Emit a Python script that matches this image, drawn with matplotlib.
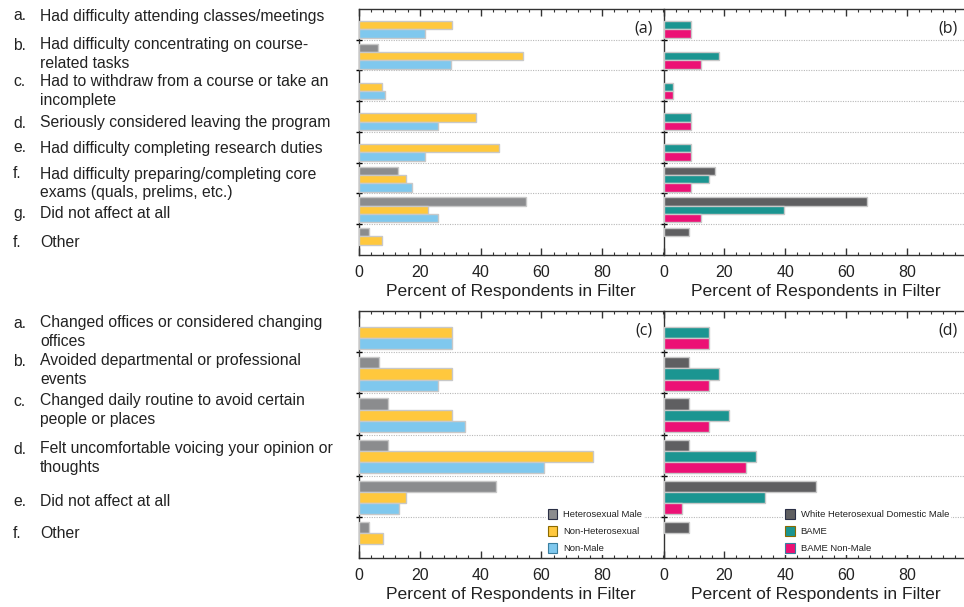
import numpy as np
import matplotlib
matplotlib.use('Agg')
import matplotlib.pyplot as plt
from matplotlib.patches import Patch
from matplotlib.ticker import MultipleLocator, FixedLocator

plt.rcParams['font.family'] = ['Liberation Sans', 'DejaVu Sans']

# ---------------- data ----------------
top_letters = ['a.', 'b.', 'c.', 'd.', 'e.', 'f.', 'g.', 'f.']
top_items = ['Had difficulty attending classes/meetings',
             'Had difficulty concentrating on course-\nrelated tasks',
             'Had to withdraw from a course or take an\nincomplete',
             'Seriously considered leaving the program',
             'Had difficulty completing research duties',
             'Had difficulty preparing/completing core\nexams (quals, prelims, etc.)',
             'Did not affect at all',
             'Other']
bottom_letters = ['a.', 'b.', 'c.', 'd.', 'e.', 'f.']
bottom_items = ['Changed offices or considered changing\noffices',
                'Avoided departmental or professional\nevents',
                'Changed daily routine to avoid certain\npeople or places',
                'Felt uncomfortable voicing your opinion or\nthoughts',
                'Did not affect at all',
                'Other']

series_left = ['Heterosexual Male', 'Non-Heterosexual', 'Non-Male']
series_right = ['White Heterosexual Domestic Male', 'BAME', 'BAME Non-Male']

a_het_male = [0, 6.4, 0, 0, 0, 12.8, 54.9, 3.2]
a_non_het = [30.6, 53.9, 7.7, 38.5, 46.0, 15.3, 22.8, 7.7]
a_non_male = [21.7, 30.4, 8.6, 26.0, 21.7, 17.4, 26.0, 0]

b_white = [0, 0, 0, 0, 0, 16.8, 66.8, 8.3]
b_bame = [9.1, 18.2, 3.0, 9.1, 9.1, 15.1, 39.5, 0]
b_bame_nm = [9.1, 12.2, 3.0, 9.1, 9.1, 9.1, 12.2, 0]

c_het_male = [0, 6.6, 9.6, 9.6, 45.2, 3.3]
c_non_het = [30.7, 30.7, 30.7, 76.9, 15.4, 7.8]
c_non_male = [30.5, 26.1, 34.9, 60.8, 13.2, 0]

d_white = [0, 8.3, 8.3, 8.3, 50.0, 8.3]
d_bame = [15.1, 18.2, 21.4, 30.4, 33.4, 0]
d_bame_nm = [15.1, 15.1, 15.1, 27.3, 6.0, 0]

xticks = [0, 20, 40, 60, 80]
xlabel = 'Percent of Respondents in Filter'

# ---------------- styles ----------------
col_left = ['#8b8c8e', '#ffc83d', '#7fc8ee']
col_right = ['#5f5f61', '#1b9591', '#ec1175']
EDGE = '#c8c8c8'

W, H = 964, 607
fig = plt.figure(figsize=(W / 100, H / 100), dpi=100)


def ax_rect(x0, y0, x1, y1):
    return [x0 / W, 1 - y1 / H, (x1 - x0) / W, (y1 - y0) / H]


def draw_panel(ax, series, colors, label):
    n = len(series[0])
    bh = 0.27
    offs = [-bh, 0, bh]
    for s, c, o in zip(series, colors, offs):
        s = np.asarray(s, dtype=float)
        idx = np.where(s > 0)[0]
        ax.barh(idx + o + 0.03, s[idx], height=bh, color=c, edgecolor=EDGE,
                linewidth=1.0, zorder=3)
    ax.set_xlim(0, 100)
    ax.set_ylim(n - 0.5, -0.5)
    for b in np.arange(0.5, n - 0.5, 1):
        ax.axhline(b, color='#b8b8b8', lw=0.8, ls=(0, (1, 1.2)), zorder=1)
    ax.xaxis.set_major_locator(FixedLocator(xticks))
    ax.xaxis.set_minor_locator(MultipleLocator(4))
    ax.yaxis.set_major_locator(FixedLocator(np.arange(0.5, n - 0.5, 1)))
    ax.set_yticklabels([])
    ax.tick_params(axis='x', which='both', direction='in', top=True, bottom=True,
                   labelsize=11.5, pad=7, colors='#333333', labelcolor='#222222')
    ax.tick_params(axis='x', which='major', length=5, width=1.0)
    ax.tick_params(axis='x', which='minor', length=2.5, width=0.8)
    ax.tick_params(axis='y', which='major', direction='inout', length=4, width=1.0,
                   left=True, right=False)
    ax.spines['right'].set_visible(False)
    for sp in ['left', 'top', 'bottom']:
        ax.spines[sp].set_color('#333333')
        ax.spines[sp].set_linewidth(1.0)
    ax.set_xlabel(xlabel, fontsize=12.6, color='#222222', labelpad=3)
    ax.text(0.967, 0.955, label, transform=ax.transAxes, ha='right', va='top',
            fontsize=11.5, family=['Open Sans', 'DejaVu Sans'], color='#222222')


ax_a = fig.add_axes(ax_rect(359, 9, 663, 255))
ax_b = fig.add_axes(ax_rect(663.5, 9, 967.5, 255))
ax_c = fig.add_axes(ax_rect(359, 311, 663, 558))
ax_d = fig.add_axes(ax_rect(663.5, 311, 967.5, 558))

draw_panel(ax_a, [a_het_male, a_non_het, a_non_male], col_left, '(a)')
draw_panel(ax_b, [b_white, b_bame, b_bame_nm], col_right, '(b)')
draw_panel(ax_c, [c_het_male, c_non_het, c_non_male], col_left, '(c)')
draw_panel(ax_d, [d_white, d_bame, d_bame_nm], col_right, '(d)')


def add_legend(ax, names, colors, anchor):
    edges = ['#2a2f45', '#8a6a00', '#3a7fa0']
    handles = [Patch(facecolor=c, edgecolor=e, linewidth=0.8, label=nm)
               for nm, c, e in zip(names, colors, edges)]
    leg = ax.legend(handles=handles, loc='lower left', bbox_to_anchor=anchor,
                    fontsize=6.8, frameon=True, framealpha=1, facecolor='white',
                    edgecolor='none', handlelength=1.0, handleheight=1.3,
                    handletextpad=0.6, labelspacing=0.72, borderpad=0.2,
                    borderaxespad=0)
    leg.set_zorder(5)
    for t in leg.get_texts():
        t.set_color('#222222')


add_legend(ax_c, series_left, col_left, (0.615, 0.012))
add_legend(ax_d, series_right, col_right, (0.395, 0.012))

# ---------------- left-side item texts ----------------
top_first = [15, 44, 81, 122, 147, 173, 213, 241]
bot_first = [322, 360, 400, 448, 500, 533]
FS = 11.3
for letters, items, ys in [(top_letters, top_items, top_first),
                           (bottom_letters, bottom_items, bot_first)]:
    for l, t, y in zip(letters, items, ys):
        base = y + 5.5
        fig.text(13 / W, 1 - base / H, l, ha='left', va='baseline', fontsize=FS,
                 color='#222222')
        lines = t.split('\n')
        for k, line in enumerate(lines):
            fig.text(40 / W, 1 - (base + 18.5 * k) / H, line, ha='left',
                     va='baseline', fontsize=FS, color='#222222')

fig.savefig('out.png', dpi=100)
